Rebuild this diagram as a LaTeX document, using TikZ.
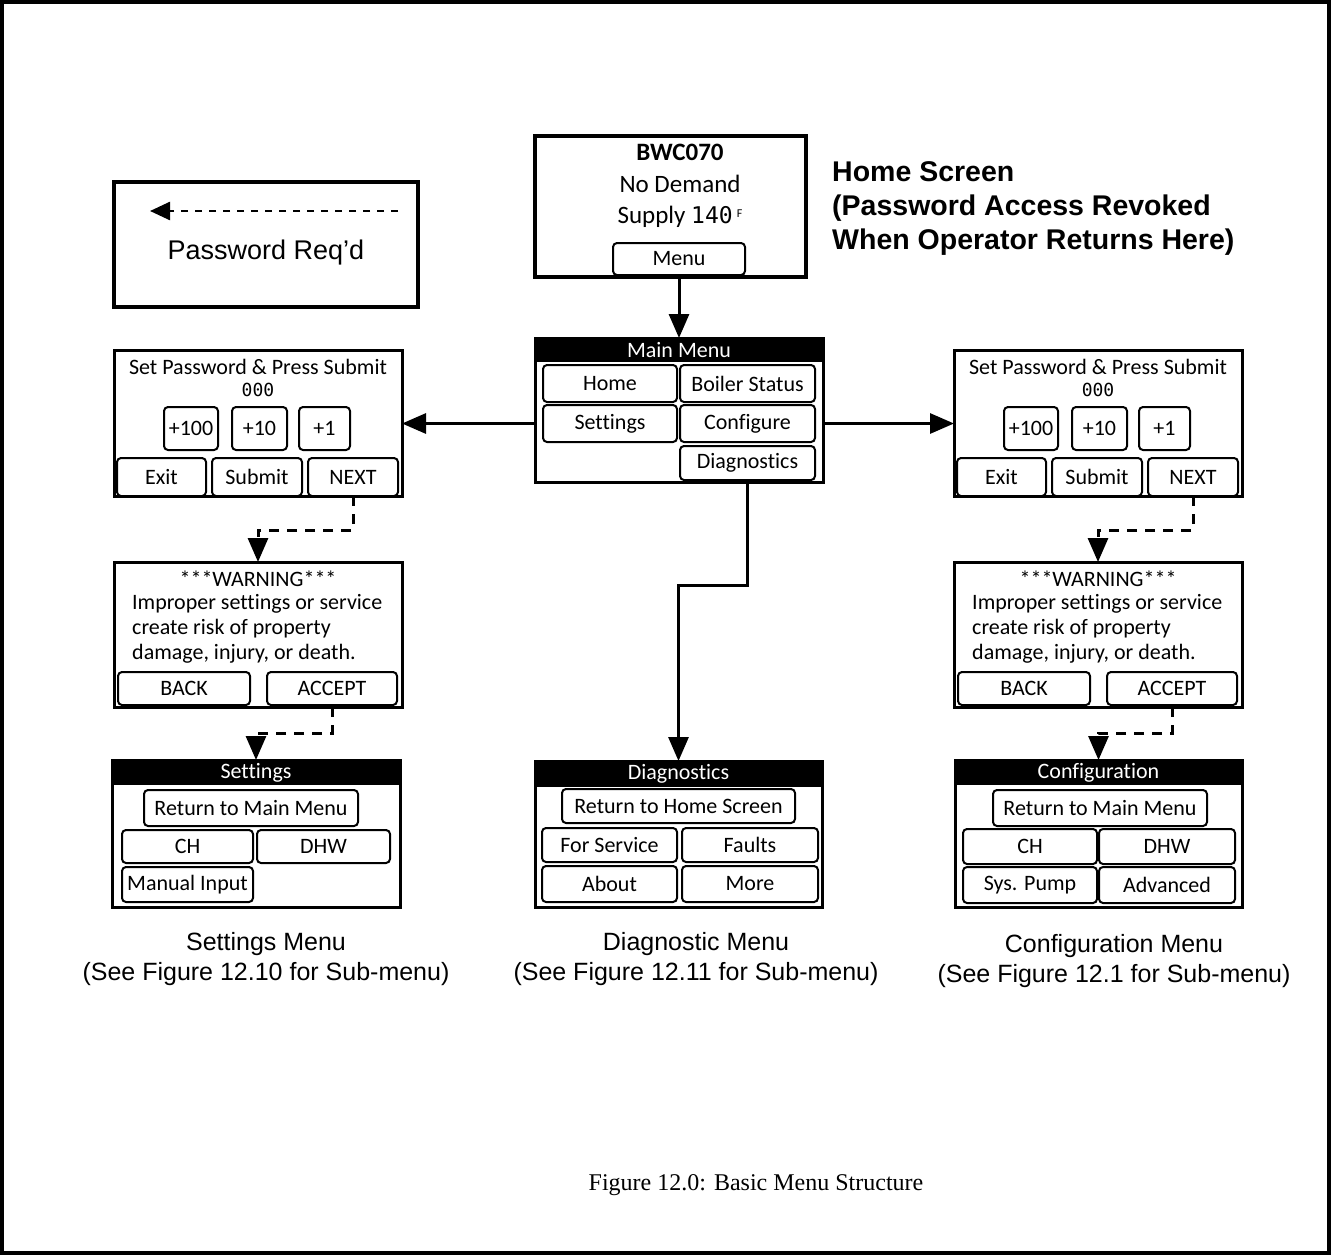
\documentclass[tikz,border=0pt]{standalone}
\usepackage{fontspec}
\setmainfont{Liberation Sans}
\newfontfamily\lcd[Ligatures=NoCommon]{Carlito}
\newfontfamily\capserif{Liberation Serif}
\newfontfamily\lcdmono{DejaVu Sans Mono}
\usetikzlibrary{arrows.meta}

\tikzset{
  scr/.style={draw, line width=3pt, fill=white, inner sep=0pt, outer sep=0pt},
  homescr/.style={draw, line width=4pt, fill=white, inner sep=0pt, outer sep=0pt},
  btn/.style={draw, line width=2pt, rounded corners=4pt, fill=white, inner sep=0pt, outer sep=0pt, font=\lcd\fontsize{22}{24}\selectfont},
  hdr/.style={fill=black, text=white, inner sep=0pt, outer sep=0pt, font=\lcd\fontsize{22}{24}\selectfont},
  lcdtxt/.style={inner sep=0pt, font=\lcd\fontsize{22}{24}\selectfont},
  hometxt/.style={inner sep=0pt, font=\lcd\fontsize{25}{27}\selectfont},
  arr/.style={line width=3pt, -{Triangle[width=20pt,length=24pt]}},
  darr/.style={arr, dash pattern=on 10pt off 8pt},
  pwarr/.style={line width=2.5pt, dash pattern=on 7pt off 7pt, -{Triangle[width=18pt,length=20pt]}},
  captxt/.style={inner sep=0pt, align=center, font=\fontsize{25}{30}\selectfont},
  labtxt/.style={inner sep=0pt, align=left, anchor=north west, font=\bfseries\fontsize{28.5}{34}\selectfont},
}

% style, name, x1, y1, x2, y2, text
\newcommand\bx[7]{\node[#1, minimum width=#5pt-#3pt, minimum height=#6pt-#4pt] (#2) at ({(#3+#5)/2},{(#4+#6)/2}) {#7};}

% password screen: prefix, x offset
\newcommand\pwscreen[2]{%
\begin{scope}[xshift=#2pt]
  \bx{scr}{#1pw}{114}{350}{402}{496}{}
  \node[lcdtxt] (#1pwt) at (258,367) {Set Password \& Press Submit};
  \node[lcdtxt, font=\lcdmono\fontsize{18}{20}\selectfont] (#1pwd) at (258,390) {000};
  \bx{btn}{#1p100}{164}{407}{218}{450}{+100}
  \bx{btn}{#1p10}{232}{407}{287}{450}{+10}
  \bx{btn}{#1p1}{299}{407}{350}{450}{+1}
  \bx{btn}{#1exit}{117}{458}{206}{496}{Exit}
  \bx{btn}{#1sub}{212}{458}{302}{496}{Submit}
  \bx{btn}{#1next}{308}{458}{398}{496}{NEXT}
  \bx{scr}{#1w}{114}{562}{402}{707}{}
  \node[lcdtxt] (#1w1) at (258,579) {***WARNING***};
  \node[lcdtxt, anchor=west] (#1w2) at (132,604) {Improper settings or service};
  \node[lcdtxt, anchor=west] (#1w3) at (132,629) {create risk of property};
  \node[lcdtxt, anchor=west] (#1w4) at (132,654) {damage, injury, or death.};
  \bx{btn}{#1back}{118}{672}{250}{705}{BACK}
  \bx{btn}{#1acc}{267}{672}{397}{705}{ACCEPT}
\end{scope}}

\begin{document}
\begin{tikzpicture}[x=1pt,y=-1pt]
\useasboundingbox (0,0) rectangle (1332,1256);
\draw[line width=4pt] (2,2) rectangle (1329,1253);

% Password Req'd legend
\bx{draw, line width=4pt, inner sep=0pt}{pwreq}{114}{182}{418}{307}{}
\node[inner sep=0pt, font=\fontsize{27}{30}\selectfont] (pwreqt) at (266,253) {Password Req'd};
\coordinate (pq1) at (398,211);
\coordinate (pq2) at (150,211);
\draw[pwarr] (pq1) -- (pq2);

% Home screen
\bx{homescr}{home}{535}{136}{806}{277}{}
\node[hometxt, font=\lcd\bfseries\fontsize{25}{27}\selectfont] (hbwc) at (680,152) {BWC070};
\node[hometxt] (hnod) at (680,184) {No Demand};
\node[hometxt] (hsup) at (680,217) {Supply {\lcdmono\fontsize{23}{25}\selectfont 140}\,\raisebox{6pt}{\fontsize{12}{12}\selectfont F}};
\bx{btn}{hmenu}{613}{243}{745}{275}{Menu}
\node[labtxt] (homelab) at (832,161) {Home Screen\\(Password Access Revoked\\When Operator Returns Here)};

% Main menu
\bx{scr}{mm}{535}{338}{823}{482}{}
\bx{hdr}{mmh}{535}{338}{823}{362}{Main Menu}
\bx{btn}{mmhome}{543}{365}{677}{402}{Home}
\bx{btn}{mmboil}{680}{365}{815}{402}{Boiler Status}
\bx{btn}{mmset}{543}{405}{677}{442}{Settings}
\bx{btn}{mmcfg}{680}{405}{815}{442}{Configure}
\bx{btn}{mmdiag}{680}{446}{815}{480}{Diagnostics}

% Password + warning screens
\pwscreen{L}{0}
\pwscreen{R}{840}

% Settings screen
\bx{scr}{set}{112}{760}{400}{907}{}
\bx{hdr}{seth}{112}{760}{400}{785}{Settings}
\bx{btn}{setret}{144}{790}{358}{826}{Return to Main Menu}
\bx{btn}{setch}{122}{830}{253}{863}{CH}
\bx{btn}{setdhw}{257}{830}{390}{863}{DHW}
\bx{btn}{setman}{122}{867}{253}{902}{Manual Input}

% Diagnostics screen
\bx{scr}{dg}{535}{761}{822}{907}{}
\bx{hdr}{dgh}{535}{761}{822}{787}{Diagnostics}
\bx{btn}{dgret}{562}{789}{795}{823}{Return to Home Screen}
\bx{btn}{dgsvc}{542}{828}{677}{862}{For Service}
\bx{btn}{dgflt}{682}{828}{818}{862}{Faults}
\bx{btn}{dgabt}{542}{866}{677}{902}{About}
\bx{btn}{dgmore}{682}{866}{818}{902}{More}

% Configuration screen
\bx{scr}{cf}{955}{760}{1242}{907}{}
\bx{hdr}{cfh}{955}{760}{1242}{785}{Configuration}
\bx{btn}{cfret}{993}{790}{1207}{826}{Return to Main Menu}
\bx{btn}{cfch}{963}{829}{1097}{864}{CH}
\bx{btn}{cfdhw}{1099}{829}{1235}{864}{DHW}
\bx{btn}{cfpump}{963}{867}{1097}{903}{Sys. Pump}
\bx{btn}{cfadv}{1099}{867}{1235}{903}{Advanced}

% Connectors
\draw[arr] (home.south -| hmenu) -- (mm.north -| hmenu);
\draw[arr] (mm.west |- mmset) -- (Lpw.east |- mmset);
\draw[arr] (mm.east |- mmcfg) -- (Rpw.west |- mmcfg);
\draw[arr] (mm.south -| mmdiag) -- ++(0,103) -| (dg.north);
\draw[darr] (Lpw.south -| Lnext) -- ++(0,34) -| (Lw.north);
\draw[darr] (Rpw.south -| Rnext) -- ++(0,34) -| (Rw.north);
\draw[darr] (Lw.south -| Lacc) -- ++(0,26) -| (set.north);
\draw[darr] (Rw.south -| Racc) -- ++(0,26) -| (cf.north);

% Captions
\node[captxt] (capset) at (266,959) {Settings Menu\\(See Figure 12.10 for Sub-menu)};
\node[captxt] (capdg) at (696,959) {Diagnostic Menu\\(See Figure 12.11 for Sub-menu)};
\node[captxt] (capcf) at (1114,961) {Configuration Menu\\(See Figure 12.1 for Sub-menu)};
\node[inner sep=0pt, font=\capserif\fontsize{24}{28}\selectfont] (figcap) at (756,1185) {Figure 12.0: Basic Menu Structure};
\end{tikzpicture}
\end{document}
